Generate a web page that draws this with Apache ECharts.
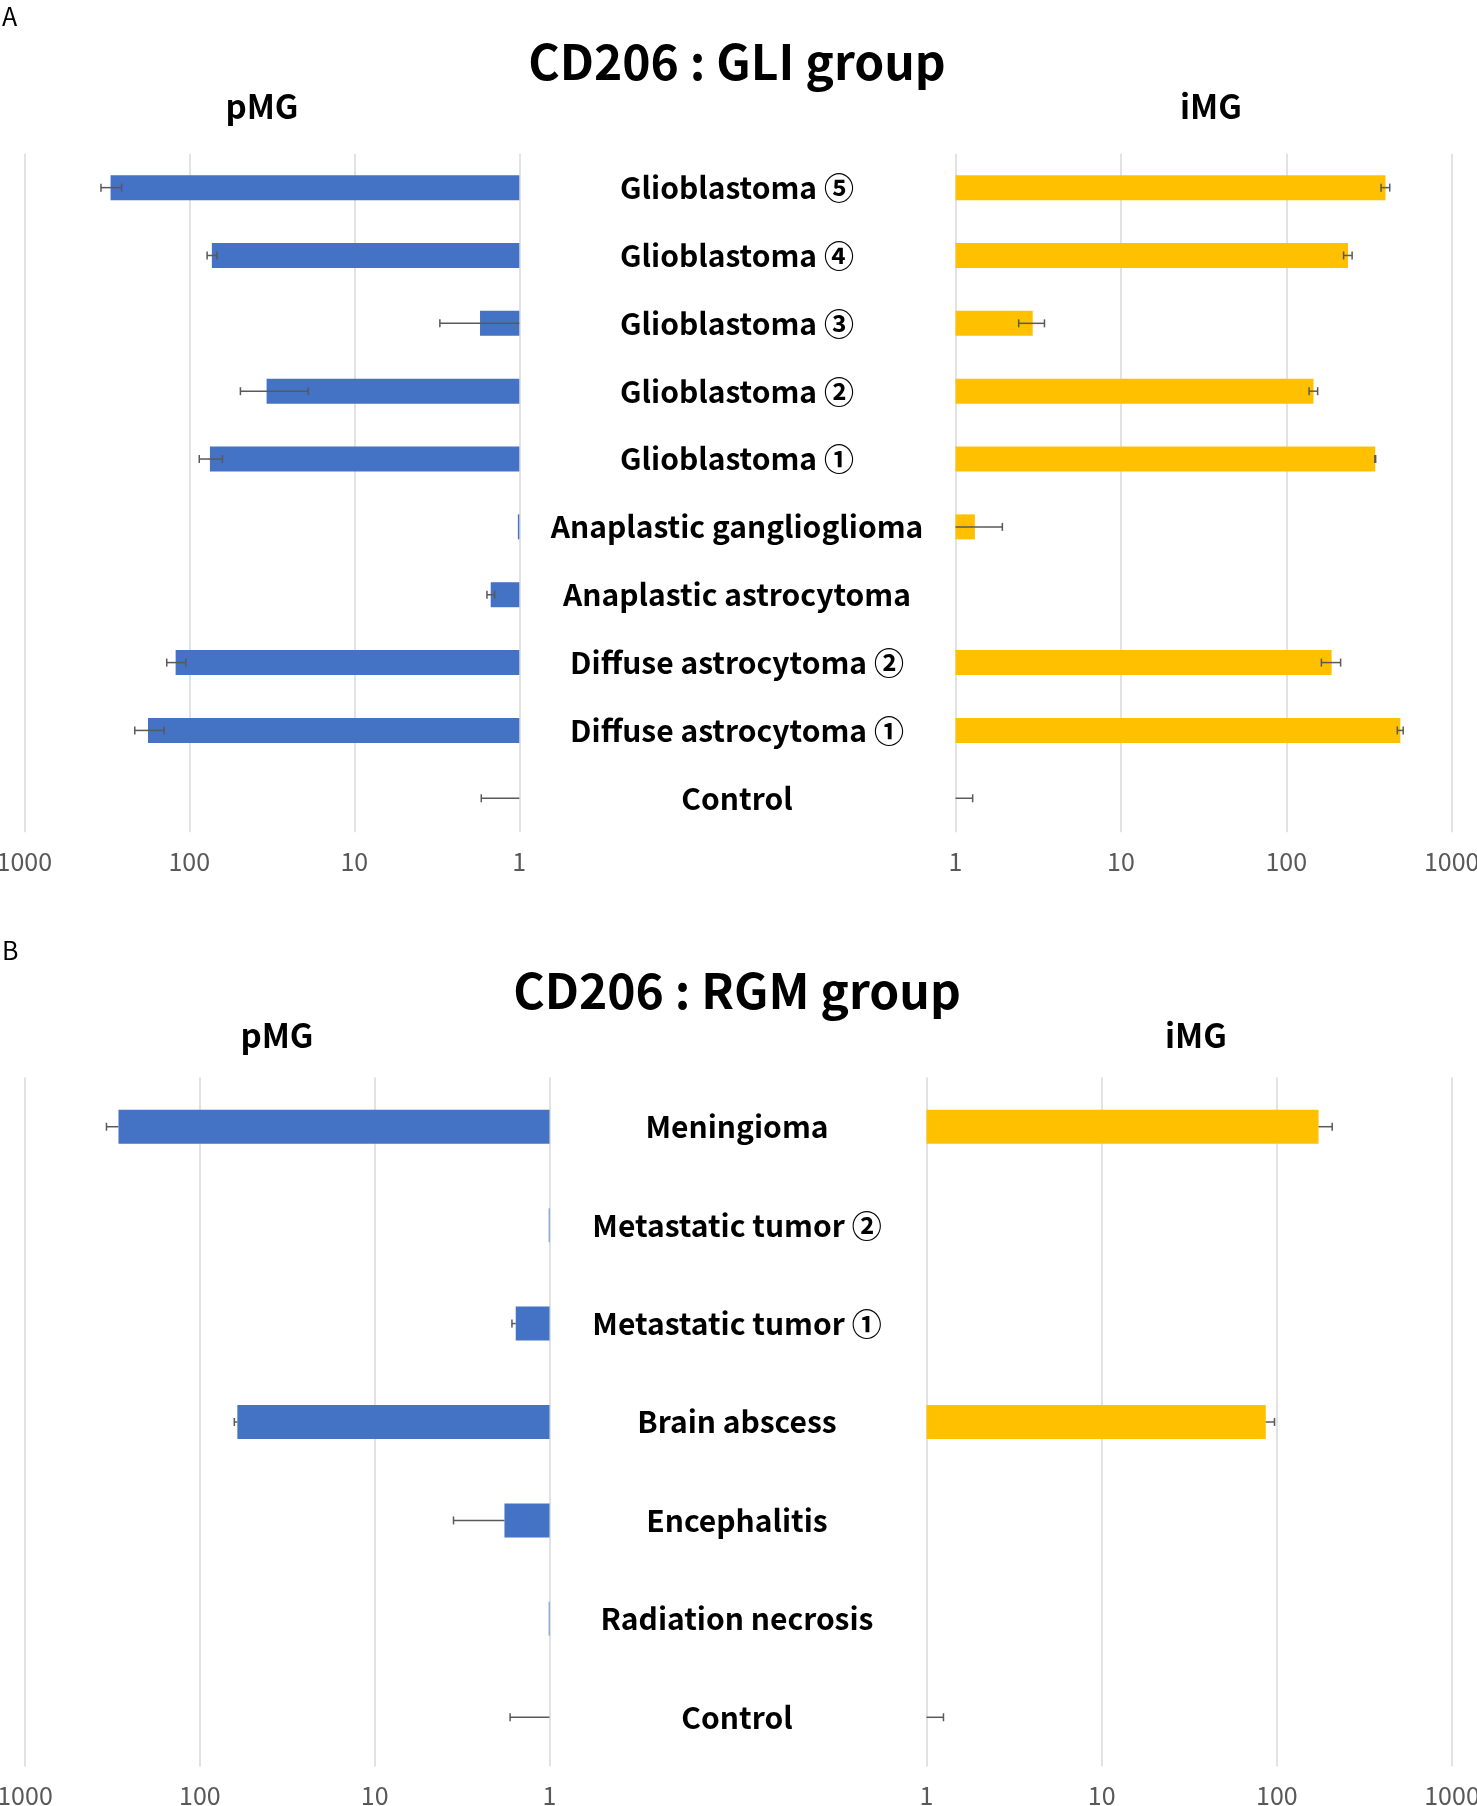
<!DOCTYPE html>
<html>
<head>
<meta charset="utf-8">
<title>CD206</title>
<script src="https://cdn.jsdelivr.net/npm/echarts@6/dist/echarts.min.js"></script>
<style>
  html, body { margin: 0; padding: 0; background: #fff; }
  #chart { width: 1477px; height: 1806px; }
</style>
</head>
<body>
<div id="chart"></div>
<script>
"use strict";

/* panel A : GLI group */
var gliCategories = [
  "Glioblastoma ⑤", "Glioblastoma ④", "Glioblastoma ③", "Glioblastoma ②",
  "Glioblastoma ①", "Anaplastic ganglioglioma", "Anaplastic astrocytoma",
  "Diffuse astrocytoma ②", "Diffuse astrocytoma ①", "Control"
];
var gliPmg = [300, 73, 1.73, 34, 75, 1.02, 1.49, 121, 178, 1];
var gliPmgErr = [43, 5, 1.3, 15, 12, 0, 0.08, 16, 36, 0.7];
var gliImg = [398, 236, 2.93, 146, 345, 1.31, null, 188, 489, 1];
var gliImgErr = [24, 14, 0.52, 8.7, 2, 0.61, null, 25, 20, 0.27];

/* panel B : RGM group */
var rgmCategories = [
  "Meningioma", "Metastatic tumor ②", "Metastatic tumor ①", "Brain abscess",
  "Encephalitis", "Radiation necrosis", "Control"
];
var rgmPmg = [292, 1.01, 1.56, 61, 1.81, 1.01, 1];
var rgmPmgErr = [50, 0, 0.08, 2.5, 1.73, 0, 0.68];
var rgmImg = [173, null, null, 86.5, null, null, 1];
var rgmImgErr = [34, null, null, 10.5, null, null, 0.25];

var valueTicks = [1, 10, 100, 1000];

var FONT = '"Noto Sans CJK JP", "Noto Sans", sans-serif';
var BLUE = "#4472C4";
var GOLD = "#FFC000";

var chart = echarts.init(document.getElementById("chart"));

function valueAxis(grid, inverse, margin) {
  return {
    type: "log",
    logBase: 10,
    gridIndex: grid,
    inverse: inverse,
    min: valueTicks[0],
    max: valueTicks[valueTicks.length - 1],
    axisLine: { show: false },
    axisTick: { show: false },
    splitLine: { show: true, lineStyle: { color: "#d9d9d9", width: 1.5 } },
    axisLabel: {
      color: "#595959",
      fontSize: 25,
      margin: margin,
      fontFamily: FONT,
      showMinLabel: true,
      showMaxLabel: true,
      formatter: function (v) {
        return String(v);
      },
    },
  };
}

function categoryAxis(grid, data, margin) {
  return {
    type: "category",
    gridIndex: grid,
    data: data,
    inverse: true,
    axisLine: { show: false },
    axisTick: { show: false },
    axisLabel: margin
      ? {
          show: true,
          interval: 0,
          align: "center",
          margin: margin,
          color: "#000",
          fontSize: 30,
          fontWeight: "bold",
          fontFamily: FONT,
        }
      : { show: false },
  };
}

function errorBars(plusOnly) {
  return function (params, api) {
    var v = api.value(0);
    var cat = api.value(1);
    var e = api.value(2);
    var lo = plusOnly ? v : v - e;
    var hi = v + e;
    var loCap = !plusOnly && lo > 1;
    if (lo < 1) lo = 1;
    var a = api.coord([lo, cat]);
    var b = api.coord([hi, cat]);
    var h = 4;
    var style = { stroke: "#595959", lineWidth: 1.5 };
    var kids = [
      { type: "line", shape: { x1: a[0], y1: a[1], x2: b[0], y2: b[1] }, style: style },
      { type: "line", shape: { x1: b[0], y1: b[1] - h, x2: b[0], y2: b[1] + h }, style: style },
    ];
    if (loCap) {
      kids.push({ type: "line", shape: { x1: a[0], y1: a[1] - h, x2: a[0], y2: a[1] + h }, style: style });
    }
    return { type: "group", children: kids };
  };
}

function errorData(values, errs) {
  var out = [];
  values.forEach(function (v, i) {
    if (v != null && errs[i]) out.push([v, i, errs[i]]);
  });
  return out;
}

function barSeries(axis, data, width, color) {
  return {
    type: "bar",
    xAxisIndex: axis,
    yAxisIndex: axis,
    data: data,
    barWidth: width,
    itemStyle: { color: color },
    silent: true,
  };
}

function errSeries(axis, values, errs, plusOnly) {
  return {
    type: "custom",
    xAxisIndex: axis,
    yAxisIndex: axis,
    renderItem: errorBars(plusOnly),
    data: errorData(values, errs),
    encode: { x: 0, y: 1 },
    silent: true,
    z: 5,
  };
}

function label(text, x, y, size, bold, align) {
  return {
    type: "text",
    x: x,
    y: y,
    style: {
      text: text,
      fontSize: size,
      fontWeight: bold ? "bold" : "normal",
      fontFamily: FONT,
      fill: "#000",
      align: align || "center",
      verticalAlign: "middle",
    },
  };
}

chart.setOption({
  animation: false,
  backgroundColor: "#fff",
  textStyle: { fontFamily: FONT },
  graphic: [
    label("A", 2, 16, 25, false, "left"),
    label("CD206 : GLI group", 737, 62, 48, true),
    label("pMG", 262, 106, 33, true),
    label("iMG", 1211, 106, 33, true),
    label("B", 2, 950, 25, false, "left"),
    label("CD206 : RGM group", 737, 991, 48, true),
    label("pMG", 277, 1035, 33, true),
    label("iMG", 1196, 1035, 33, true),
  ],
  grid: [
    { left: 24.3, width: 495, top: 153.7, height: 678.5, outerBoundsMode: "none" },
    { left: 955.5, width: 496.2, top: 153.7, height: 678.5, outerBoundsMode: "none" },
    { left: 25, width: 524.5, top: 1077.5, height: 689, outerBoundsMode: "none" },
    { left: 926.5, width: 525.5, top: 1077.5, height: 689, outerBoundsMode: "none" },
  ],
  xAxis: [
    valueAxis(0, true, 17),
    valueAxis(1, false, 17),
    valueAxis(2, true, 16),
    valueAxis(3, false, 16),
  ],
  yAxis: [
    categoryAxis(0, gliCategories, 0),
    categoryAxis(1, gliCategories, 218.5),
    categoryAxis(2, rgmCategories, 0),
    categoryAxis(3, rgmCategories, 189.5),
  ],
  series: [
    barSeries(0, gliPmg, 25, BLUE),
    errSeries(0, gliPmg, gliPmgErr, false),
    barSeries(1, gliImg, 25, GOLD),
    errSeries(1, gliImg, gliImgErr, false),
    barSeries(2, rgmPmg, 34, BLUE),
    errSeries(2, rgmPmg, rgmPmgErr, true),
    barSeries(3, rgmImg, 34, GOLD),
    errSeries(3, rgmImg, rgmImgErr, true),
  ],
});
</script>
</body>
</html>
